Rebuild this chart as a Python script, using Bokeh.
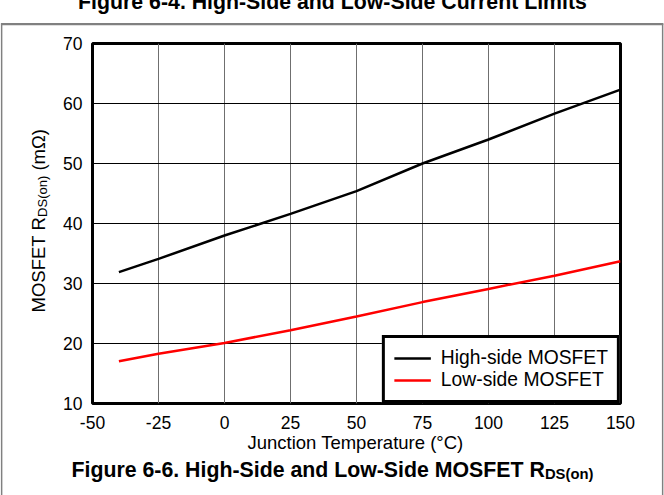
import numpy as np
from bokeh.plotting import figure
from bokeh.models import Range1d, FixedTicker, Label, Legend, LegendItem
from bokeh.embed import file_html
from bokeh.resources import INLINE

# ---- data ----
temperature = [-40, -25, 0, 25, 50, 75, 100, 125, 150]
high_side = [31.9, 34.1, 38.0, 41.6, 45.4, 50.0, 54.0, 58.3, 62.3]
low_side = [17.05, 18.3, 20.1, 22.2, 24.5, 26.9, 29.1, 31.3, 33.7]
x_ticks = [-50, -25, 0, 25, 50, 75, 100, 125, 150]
x_tick_labels = ["-50", "-25", "0", "25", "50", "75", "100", "125", "150"]
y_ticks = [10, 20, 30, 40, 50, 60, 70]
series_names = ["High-side MOSFET", "Low-side MOSFET"]

# ---- layout ----
W, H = 664, 495
L, R, T, B = 92, 44, 43, 92
FW, FH = W - L - R, H - T - B
x0, x1, y0, y1 = -50, 150, 10, 70
FONT = "Liberation Sans"
SHIFT = 8  # label baseline correction


def X(px):
    return x0 + (px - L) / FW * (x1 - x0)


def Y(py):
    return y0 + (H - B - py) / FH * (y1 - y0)


p = figure(width=W, height=H, title=None,
           x_range=Range1d(x0, x1), y_range=Range1d(y0, y1),
           output_backend="svg", toolbar_location=None,
           min_border_left=L, min_border_right=R,
           min_border_top=T, min_border_bottom=B)
p.background_fill_color = "white"
p.border_fill_color = "white"
p.outline_line_color = "black"
p.outline_line_width = 3

for ax, ticks, standoff in ((p.xaxis, x_ticks, 12), (p.yaxis, y_ticks, 10)):
    ax.ticker = FixedTicker(ticks=ticks)
    ax.axis_line_color = None
    ax.major_tick_line_color = None
    ax.minor_tick_line_color = None
    ax.major_tick_out = 0
    ax.major_tick_in = 0
    ax.major_label_standoff = standoff
    ax.major_label_text_font = FONT
    ax.major_label_text_font_size = "17.5px"
    ax.major_label_text_color = "black"
p.xaxis.major_label_overrides = {t: s for t, s in zip(x_ticks, x_tick_labels)}

p.xgrid.ticker = FixedTicker(ticks=x_ticks)
p.ygrid.ticker = FixedTicker(ticks=y_ticks)
p.xgrid.grid_line_color = "#6f6f6f"
p.xgrid.grid_line_width = 1
p.ygrid.grid_line_color = "black"
p.ygrid.grid_line_width = 1

r1 = p.line(temperature, high_side, line_color="black", line_width=2.5)
r2 = p.line(temperature, low_side, line_color="#ff0000", line_width=2.5)

legend = Legend(items=[LegendItem(label=series_names[0], renderers=[r1]),
                       LegendItem(label=series_names[1], renderers=[r2])],
                location="bottom_right", margin=0, padding=9, spacing=0,
                glyph_width=37, glyph_height=20, label_height=20,
                label_standoff=10, label_text_font=FONT,
                label_text_font_size="19.3px", label_text_color="black",
                border_line_color="black", border_line_width=3,
                border_line_alpha=1.0,
                background_fill_color="white", background_fill_alpha=1)
p.add_layout(legend)


# page frame lines: thin empty label boxes drawn with a gray border
def rule(px, py, right, bottom, side):
    p.add_layout(Label(x=X(px), y=Y(py), text=" ", text_font_size="1px",
                       text_align="left", text_baseline="top",
                       padding={"left": 0, "top": 0, "right": right, "bottom": bottom},
                       border_line_color="#808080", border_line_width=1.2,
                       background_fill_color=None), side)


rule(1, 23, 661, 0, "above")
rule(1, 23, 0, 480, "right")
rule(662, 23, 0, 480, "right")


def lab(text, px, py, size, side, align="left", bold=False, angle=0.0):
    p.add_layout(Label(x=X(px), y=Y(py),
                       text=text, text_align=align,
                       text_baseline="alphabetic", text_font=FONT,
                       text_font_size=size, text_color="black",
                       text_font_style="bold" if bold else "normal",
                       angle=angle), side)


# cut-off figure caption at top
lab("Figure 6-4. High-Side and Low-Side Current Limits", 332, 9 - SHIFT, "21.3px", "above", "center", True)

# x axis label
lab("Junction Temperature (°C)", 355, 450 - SHIFT, "18.5px", "below", "center")

# y axis label with subscript (rotated)
ang = np.pi / 2
yb = 45 - 7
y_start = 312
w_main = 5.167 * 18.5
w_sub = 3.167 * 13
w_space = 0.278 * 18.5
lab("MOSFET R", yb, y_start, "18.5px", "left", angle=ang)
lab("DS(on)", yb + 4, y_start - w_main, "13px", "right", angle=ang)
lab("(mΩ)", yb, y_start - w_main - w_sub - w_space, "18.5px", "left", angle=ang)

# bottom caption with subscript
cap_x = 71
cap_main = 22.226 * 21.3
lab("Figure 6-6. High-Side and Low-Side MOSFET R", cap_x, 477 - SHIFT, "21.3px", "below", bold=True)
lab("DS(on)", cap_x + cap_main, 481 - SHIFT, "14.8px", "below", bold=True)

open("out.html", "w").write(file_html(p, INLINE))
